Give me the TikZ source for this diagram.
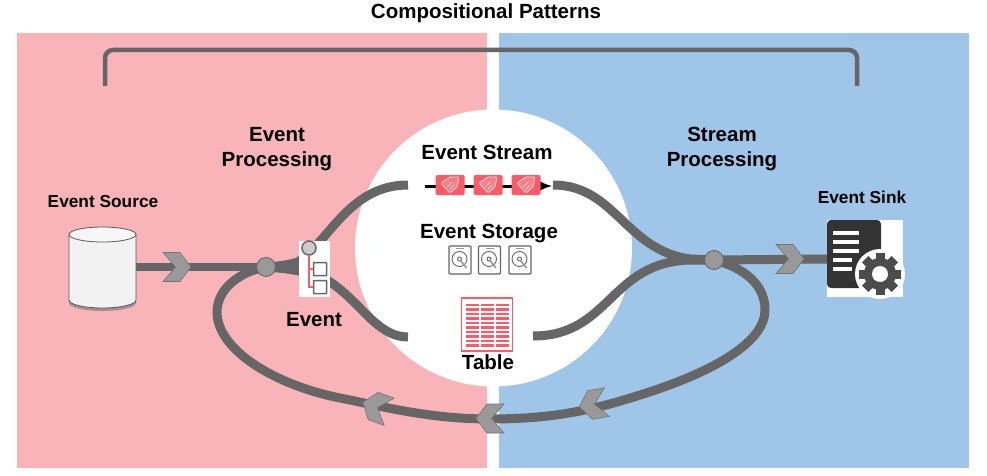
\documentclass[tikz,border=0pt]{standalone}
\usepackage{fontspec}
\setmainfont{Liberation Sans}
\definecolor{pinkbg}{HTML}{F9B4B9}
\definecolor{bluebg}{HTML}{9FC5E8}
\definecolor{flowgray}{HTML}{666666}
\definecolor{tagred}{HTML}{FB5A66}
\definecolor{sinkdark}{HTML}{333333}
\tikzset{
  heading/.style={font=\bfseries\fontsize{20.5}{25}\selectfont,align=center,text=black},
  smallhead/.style={font=\bfseries\fontsize{17.3}{20}\selectfont,text=black},
  flow/.style={draw=flowgray,line width=9pt},
  dot/.style={circle,draw=flowgray,fill=black!40,line width=0.8pt,minimum size=19pt,inner sep=0pt},
  member/.style={draw=flowgray,fill=white,line width=1.5pt,rounded corners=0.5pt,minimum size=13pt,inner sep=0pt},
  chevron/.pic={\draw[draw=black!55,fill=black!40,line width=0.6pt]
    (-14,-14.5) -- (3,-14.5) -- (14,0) -- (3,14.5) -- (-14,14.5) -- (-1.5,0) -- cycle;},
  tagbox/.pic={
    \draw[fill=tagred,draw=none,rounded corners=1.5pt] (-14.5,-10) rectangle (14.5,10);
    \draw[draw=white!80!tagred,fill=white!22!tagred,line width=0.8pt,rounded corners=1pt] (-9,-2) -- (0,-8) -- (9,-8) -- (7,2) -- (0,8) -- cycle;
    \draw[draw=white!80!tagred,line width=0.7pt] (-3,2) -- (2,-3) (0,4) -- (4,0);},
  diskbox/.pic={
    \draw[fill=white,draw=black!60,line width=1.1pt,rounded corners=1pt] (-11,-14) rectangle (11,14);
    \draw[draw=black!60,line width=0.9pt] (-0.5,-1) circle (7.5) (-0.5,-1) circle (2);
    \draw[draw=black!40,line width=1.6pt] (0,0) -- (6.5,8);
    \draw[draw=black!40,line width=0.8pt] (-4,-11.5) -- (4,-11.5);},
}
\begin{document}
\begin{tikzpicture}[x=1pt,y=-1pt]
    \useasboundingbox (0,0) rectangle (987,476);

    % Two backgrounds
    \fill[white] (0,0) rectangle (987,476);
    \fill[pinkbg] (17,33) rectangle (487,468);
    \fill[bluebg] (499,33) rectangle (969,468);
    \fill[white] (493.5,248) circle (138.5);

    % Bracket on top
    \draw[draw=flowgray,line width=4.5pt,rounded corners=8pt] (105,86) -- (105,50) -- (857,50) -- (857,86);

    % Labels
    \node[heading] (title) at (486,13) {Compositional Patterns};
    \node[heading] (evproc) at (277,149) {Event\\Processing};
    \node[heading] (stproc) at (722,149) {Stream\\Processing};
    \node[smallhead] (srclabel) at (103,202) {Event Source};
    \node[smallhead] (sinklabel) at (862,197) {Event Sink};
    \node[heading] (evlabel) at (314,320) {Event};
    \node[heading] (streamlabel) at (487,152) {Event Stream};
    \node[heading] (storelabel) at (489,234) {Event Storage};
    \node[heading] (tablelabel) at (488,362) {Table};

    % Named ends of the flows
    \coordinate (srcout) at (135,267);
    \coordinate (procpt) at (266,267);
    \coordinate (sinkpt) at (714,260);
    \coordinate (streamin) at (408,185);
    \coordinate (tablein) at (408,337);
    \coordinate (streamout) at (553,185);
    \coordinate (tableout) at (533,336);
    \coordinate (sinkin) at (830,259);
    \coordinate (loopleft) at (217,312);
    \coordinate (loopmid) at (490,419);
    \coordinate (loopright) at (765,310);

    % Flows
    \draw[flow,line width=8pt] (srcout) -- (procpt);
    \fill[flowgray] (266,262) .. controls (280,262) and (290,260) .. (302,256) -- (302,276) .. controls (290,274) and (280,272) .. (266,272) -- cycle;
    \draw[flow] (298,262) .. controls (330,240) and (350,185) .. (streamin);
    \draw[flow] (305,270) .. controls (355,285) and (370,337) .. (tablein);
    \draw[flow] (streamout) .. controls (615,185) and (625,250) .. (690,259) -- (sinkpt);
    \draw[flow] (tableout) .. controls (610,336) and (610,262) .. (690,260) -- (sinkpt);
    \draw[flow] (sinkpt) -- (sinkin);
    \draw[flow] (procpt) .. controls (238,272) and (217,290) .. (loopleft)
      .. controls (217,350) and (275,385) .. (340,398)
      .. controls (385,407) and (430,419) .. (loopmid)
      .. controls (550,419) and (590,411) .. (640,395)
      .. controls (720,370) and (765,340) .. (loopright)
      .. controls (765,285) and (745,268) .. (sinkpt);
    \node[dot] (procdot) at (procpt) {};
    \node[dot] (sinkdot) at (sinkpt) {};

    % Chevrons on the flows
    \pic at (177,267) {chevron};
    \pic at (790,259) {chevron};
    \pic[rotate=190] at (593,404.5) {chevron};
    \pic[rotate=180] at (490,418.5) {chevron};
    \pic[rotate=160] at (376,407) {chevron};

    % Event Source
    \fill[black!55,opacity=0.6] (69,240) -- (69,303) arc[start angle=180,end angle=0,x radius=33.5,y radius=8] -- (136,240) -- cycle;
    \draw[draw=black!65,fill=black!5,line width=0.8pt] (69,234.5) -- (69,300) arc[start angle=180,end angle=0,x radius=33.5,y radius=8] -- (136,234.5);
    \draw[draw=black!65,fill=black!3,line width=0.8pt] (102.5,234.5) ellipse (33.5 and 7.5);

    % Event icon
    \node[fill=white,minimum width=31pt,minimum height=56pt,inner sep=0pt] (evicon) at (314.5,269) {};
    \node[circle,draw=flowgray,fill=black!20,line width=1.5pt,minimum size=14pt,inner sep=0pt] (evroot) at (309,248) {};
    \node[member] (evone) at (320,269) {};
    \node[member] (evtwo) at (320,287) {};
    \draw[tagred,line width=1.4pt] (evroot) -- (309,287) -- (evtwo);
    \draw[tagred,line width=1.4pt] (309,269) -- (evone);

    % Event Stream
    \coordinate (stripstart) at (425,186);
    \coordinate (stripend) at (552,186);
    \draw[-latex,line width=3pt] (stripstart) -- (stripend);
    \foreach \x in {450,488,526} {
      \pic at (\x,185) {tagbox};
    }

    % Event Storage
    \foreach \x in {460,489.5,520} {
      \pic at (\x,260) {diskbox};
    }

    % Table
    \node[draw=tagred,fill=white,line width=1.3pt,minimum width=51pt,minimum height=53pt,inner sep=0pt] (tablebox) at (487,324.5) {};
    \foreach \x in {466,481,496} {
      \foreach \y in {303.5,308,...,344} {
        \fill[tagred] (\x,\y) rectangle ++(12.5,2.8);
      }
    }

    % Event Sink
    \node[fill=white,minimum width=76pt,minimum height=77pt,inner sep=0pt] (sinkicon) at (865,258.5) {};
    \fill[sinkdark,rounded corners=4pt] (827,220) rectangle (881,288);
    \foreach \y/\w in {233/26,242/26,251/26,260/19,269/19} {
      \fill[white] (833,\y-2) rectangle (833+\w,\y+2);
    }
    \fill[white] (880,274) circle (25);
    \fill[black!70] (880,274) circle (16);
    \foreach \a in {0,45,...,315} {
      \fill[black!70,rotate around={\a:(880,274)}] (875.5,253) rectangle (884.5,262);
    }
    \fill[white] (880,274) circle (8);
\end{tikzpicture}
\end{document}
